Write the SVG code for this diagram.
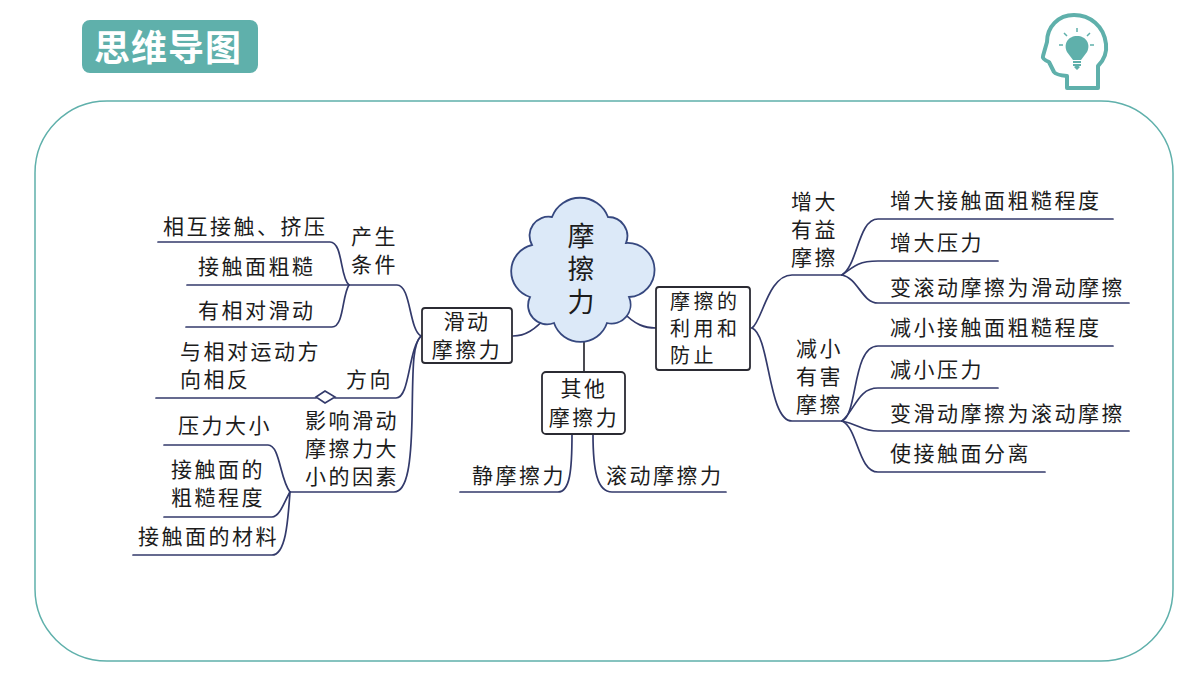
<svg xmlns="http://www.w3.org/2000/svg" width="1200" height="675" viewBox="0 0 1200 675">
<style>
text{font-family:"Noto Sans CJK SC","Noto Sans",sans-serif;fill:#1c1c1c;font-size:21px;letter-spacing:2.5px}
.b{fill:#fff;stroke:#2b2b33;stroke-width:1.8}
.l{fill:none;stroke:#333a6b;stroke-width:1.7;stroke-linecap:round}
.t{fill:#5fb0ab}
.c{font-size:27px;letter-spacing:6px;writing-mode:vertical-rl}
.m{font-size:20px;letter-spacing:3.5px}
</style>
<rect width="1200" height="675" fill="#fff"/>
<g id="frame"><rect x="35" y="101" width="1138" height="560" rx="72" fill="#fff" stroke="#5fb0ab" stroke-width="1.5"/></g>
<g id="title"><rect class="t" x="82" y="20" width="176" height="53" rx="8"/><text x="94" y="61" style="font-size:36px;font-weight:700;fill:#fff;letter-spacing:1px">思维导图</text></g>
<g id="head-icon">
<path d="M1067 76V88H1098V66C1104 60 1107 52 1106 44C1104 26 1090 15 1074 15C1058 15 1047 27 1047 42L1043 56Q1042 59 1049 62L1054 72Q1056 75 1067 76Z" fill="none" stroke="#5fb0ab" stroke-width="4" stroke-linejoin="round"/>
<path class="t" d="M1077 36C1068 36 1063 44 1067 52L1073 60H1081L1087 52C1091 44 1086 36 1077 36Z"/>
<rect class="t" x="1073" y="61" width="8" height="2"/><rect class="t" x="1073" y="64" width="8" height="2"/><path class="t" d="M1074 67H1080L1077 65Z M1074 67H1080L1077 70Z"/>
<path d="M1059 45H1063M1090 45H1094M1064 33L1067 36M1090 33L1087 36M1077 28V32" stroke="#5fb0ab" stroke-width="1.5" fill="none"/>
</g>
<g id="connectors">
<path class="l" d="M158 242H330C343 242 340 278 349 285H397C411 285 409 330 421 336"/>
<path class="l" d="M187 285H349"/>
<path class="l" d="M186 327H332C344 327 342 295 349 285"/>
<path class="l" d="M156 398H316M335 398H396C410 398 408 350 421 336"/>
<path class="l" d="M421 336C412 345 413 370 412 420C411 460 408 492 394 492H290"/>
<path class="l" d="M164 445H268C280 445 280 480 290 492"/>
<path class="l" d="M164 517H272C280 517 285 500 290 492"/>
<path class="l" d="M133 555H272C286 555 288 520 290 492"/>
<path class="l" d="M547 316C535 330 525 336 513 336"/>
<path class="l" d="M623 312C635 325 645 328 656 328"/>
<path class="l" d="M584 342V371" style="stroke:#2b2b33"/>
<path class="l" d="M572 434C572 470 570 492 558 492H460"/>
<path class="l" d="M593 434C593 470 597 492 612 492H726"/>
<path class="l" d="M752 328C762 322 768 275 792 275H842"/>
<path class="l" d="M752 328C770 335 768 421 792 421H842"/>
<path class="l" d="M842 275C858 265 858 219 878 219H1113"/>
<path class="l" d="M842 275C855 265 860 261 878 261H998"/>
<path class="l" d="M842 275C858 278 862 303 878 303H1129"/>
<path class="l" d="M842 421C858 415 852 346 878 346H1113"/>
<path class="l" d="M842 421C855 410 858 388 878 388H998"/>
<path class="l" d="M842 421C858 424 862 431 878 431H1129"/>
<path class="l" d="M842 421C858 428 858 472 878 472H1045"/>
<path d="M316 397L325 391L335 397L325 403Z" fill="#fff" stroke="#333a6b" stroke-width="1.6"/>
</g>
<g id="cloud"><path transform="translate(-3 0)" d="M555 217A30 30 0 0 1 611 217A19 19 0 0 1 629 243A27 27 0 0 1 632 297A19 19 0 0 1 610 323A28 28 0 0 1 557 323A19 19 0 0 1 533 297A27 27 0 0 1 535 245A19 19 0 0 1 555 217Z" fill="#dce9f8" stroke="#36487f" stroke-width="1.8"/><text class="c" x="581" y="222">摩擦力</text></g>
<g id="hua"><rect class="b" x="422" y="308" width="90" height="55" rx="3"/><text x="467" y="329" text-anchor="middle">滑动</text><text x="467" y="357" text-anchor="middle">摩擦力</text></g>
<g id="qita"><rect class="b" x="542" y="372" width="83" height="62" rx="4"/><text x="584" y="396" text-anchor="middle">其他</text><text x="584" y="425" text-anchor="middle">摩擦力</text></g>
<g id="liyong"><rect class="b" x="656" y="287" width="94" height="83" rx="3"/><text class="m" x="670" y="309">摩擦的</text><text class="m" x="670" y="336">利用和</text><text class="m" x="670" y="363">防止</text></g>
<g id="left-labels">
<text x="163" y="234">相互接触、挤压</text><text x="198" y="274">接触面粗糙</text><text x="198" y="318">有相对滑动</text>
<text x="351" y="244">产生</text><text x="351" y="272">条件</text>
<text x="180" y="359">与相对运动方</text><text x="180" y="387">向相反</text><text x="346" y="387">方向</text>
<text x="178" y="433">压力大小</text><text x="305" y="428">影响滑动</text><text x="305" y="456">摩擦力大</text><text x="305" y="484">小的因素</text>
<text x="171" y="477">接触面的</text><text x="171" y="505">粗糙程度</text><text x="138" y="544">接触面的材料</text>
</g>
<g id="bottom-labels"><text x="472" y="483">静摩擦力</text><text x="606" y="483">滚动摩擦力</text></g>
<g id="right-labels">
<text x="791" y="209">增大</text><text x="791" y="237">有益</text><text x="791" y="265">摩擦</text>
<text x="796" y="356">减小</text><text x="796" y="384">有害</text><text x="796" y="412">摩擦</text>
<text x="890" y="208">增大接触面粗糙程度</text><text x="890" y="250">增大压力</text><text x="890" y="295">变滚动摩擦为滑动摩擦</text>
<text x="890" y="335">减小接触面粗糙程度</text><text x="890" y="377">减小压力</text><text x="890" y="421">变滑动摩擦为滚动摩擦</text><text x="890" y="461">使接触面分离</text>
</g>
</svg>
